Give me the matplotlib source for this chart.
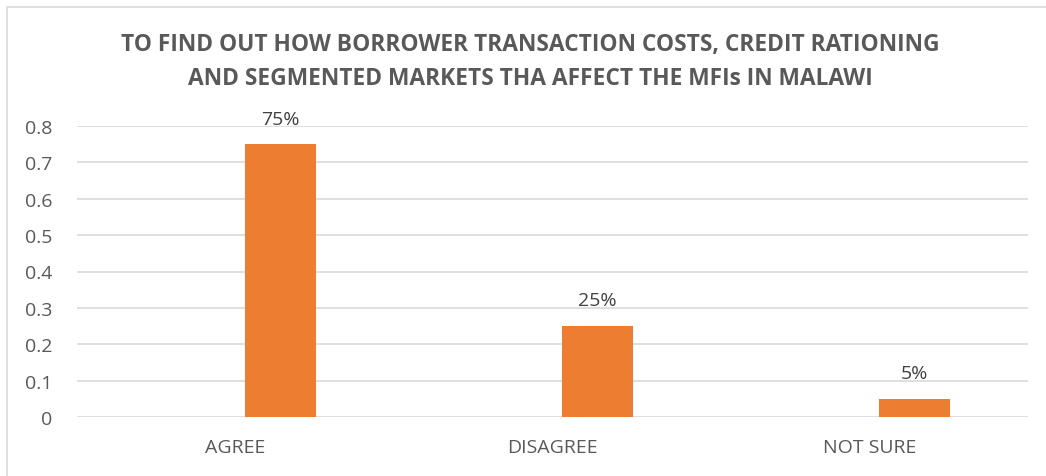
import numpy as np
import matplotlib.pyplot as plt
from matplotlib.patches import Rectangle

categories = ["AGREE", "DISAGREE", "NOT SURE"]
values = [0.75, 0.25, 0.05]
labels = ["75%", "25%", "5%"]

plt.rcParams['font.family'] = ['Open Sans', 'DejaVu Sans']

fig = plt.figure(figsize=(10.46, 4.77), dpi=100)
ax = fig.add_axes([77 / 1046, 1 - 418 / 477, (1028 - 77) / 1046, (418 - 127) / 477])

# chart frame
fig.patches.append(Rectangle((7 / 1046, -0.05), 1.1, 1 - 8 / 477 + 0.05,
                             transform=fig.transFigure, fill=False,
                             edgecolor='#d9d9d9', linewidth=1.2))

x = np.arange(len(categories))
bars = ax.bar(x + 0.142, values, width=0.224, color='#ed7d31', zorder=3)

for xi, v, lab in zip(x, values, labels):
    ax.annotate(lab, (xi + 0.142, v), xytext=(0, 12), textcoords='offset points',
                ha='center', va='bottom', fontsize=14, color='#404040')

ax.set_xlim(-0.5, 2.5)
ax.set_ylim(0, 0.8)
ax.set_yticks(np.arange(0, 0.81, 0.1))
ax.set_yticklabels(['0', '0.1', '0.2', '0.3', '0.4', '0.5', '0.6', '0.7', '0.8'])
ax.set_xticks(x)
ax.set_xticklabels(categories)
ax.tick_params(axis='both', length=0, labelsize=14, colors='#595959')
ax.tick_params(axis='x', pad=15)
ax.tick_params(axis='y', pad=18)
ax.grid(axis='y', color='#d9d9d9', linewidth=1.2, zorder=0)
for s in ax.spines.values():
    s.set_visible(False)

fig.text(0.507, 1 - 62 / 477,
         "TO FIND OUT HOW BORROWER TRANSACTION COSTS, CREDIT RATIONING\n"
         "AND SEGMENTED MARKETS THA AFFECT THE MFIs IN MALAWI",
         ha='center', va='center', fontsize=16.4, fontweight='bold',
         color='#595959', linespacing=1.55)

fig.savefig('out.png', dpi=100)
